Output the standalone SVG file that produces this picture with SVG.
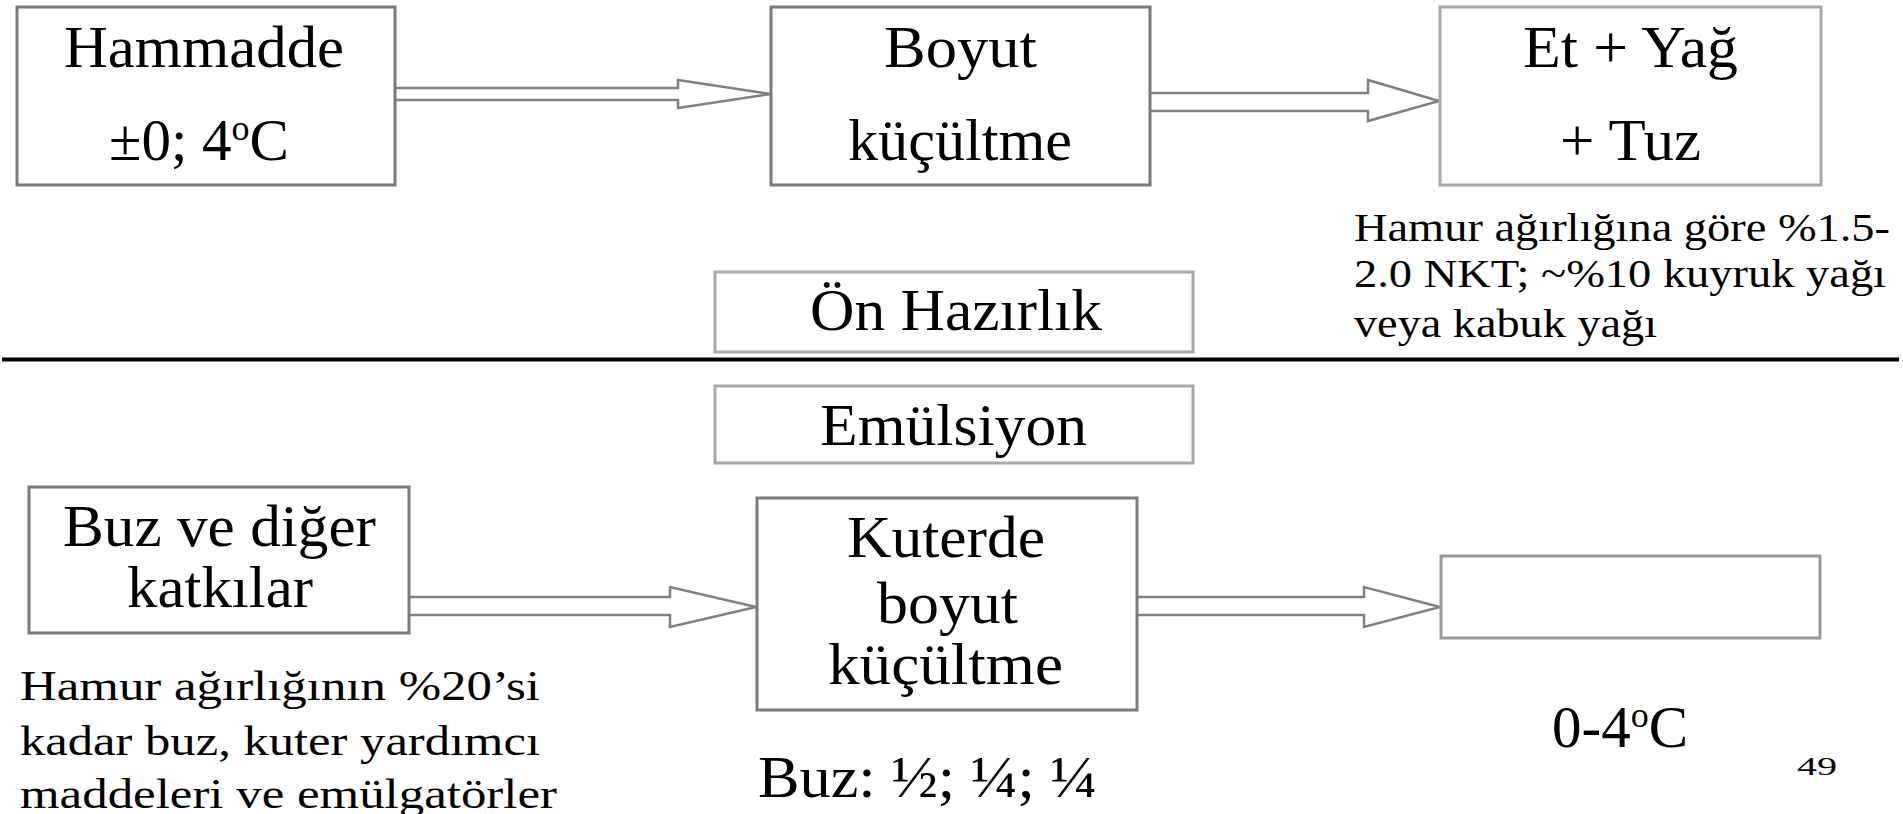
<svg xmlns="http://www.w3.org/2000/svg" width="1903" height="814" viewBox="0 0 1903 814">
<style>
.box{fill:#fff;stroke:#7a7a7a;stroke-width:3}
.lbox{fill:#fff;stroke:#a8a8a8;stroke-width:3}
.t{font-family:"Liberation Serif","Times New Roman",serif;font-size:59px;fill:#000}
.n{font-family:"Liberation Serif","Times New Roman",serif;font-size:40px;fill:#000}
.m{font-family:"Liberation Serif","Times New Roman",serif;font-size:43px;fill:#000}
.arr{fill:#fff;stroke:#808080;stroke-width:2.5;stroke-linejoin:miter}
</style>
<rect width="1903" height="814" fill="#fff"/>

<g id="connectors">
  <path class="arr" d="M395,88 L678,88 L678,80 L771,94 L678,108 L678,100 L395,100"/>
  <path class="arr" d="M1150,93 L1368,93 L1368,80 L1439,101 L1368,121 L1368,111 L1150,111"/>
  <path class="arr" d="M409,597 L670,597 L670,587 L756,607 L670,627 L670,615 L409,615"/>
  <path class="arr" d="M1137,597 L1364,597 L1364,587 L1440,607 L1364,627 L1364,615 L1137,615"/>
  <line x1="2" y1="359.5" x2="1899" y2="359.5" stroke="#000" stroke-width="4"/>
</g>

<g id="hammadde">
  <rect class="box" x="17" y="7" width="378" height="178"/>
  <text class="t" x="64" y="67" textLength="280" lengthAdjust="spacingAndGlyphs">Hammadde</text>
  <text class="t" x="109" y="160">±0; 4<tspan font-size="36" dy="-20">o</tspan><tspan dy="20">C</tspan></text>
</g>

<g id="boyut">
  <rect class="box" x="771" y="7" width="379" height="178"/>
  <text class="t" x="884" y="67" textLength="153" lengthAdjust="spacingAndGlyphs">Boyut</text>
  <text class="t" x="848" y="160" textLength="224" lengthAdjust="spacingAndGlyphs">küçültme</text>
</g>

<g id="etyag">
  <rect class="lbox" x="1440" y="7" width="381" height="178"/>
  <text class="t" x="1523" y="67" textLength="215" lengthAdjust="spacingAndGlyphs">Et + Yağ</text>
  <text class="t" x="1560" y="160" textLength="141" lengthAdjust="spacingAndGlyphs">+ Tuz</text>
</g>

<g id="note-top">
  <text class="n" x="1354" y="241" textLength="536" lengthAdjust="spacingAndGlyphs">Hamur ağırlığına göre %1.5-</text>
  <text class="n" x="1354" y="287" textLength="532" lengthAdjust="spacingAndGlyphs">2.0 NKT; ~%10 kuyruk yağı</text>
  <text class="n" x="1354" y="337" textLength="303" lengthAdjust="spacingAndGlyphs">veya kabuk yağı</text>
</g>

<g id="on-hazirlik">
  <rect class="lbox" x="715" y="272" width="478" height="80"/>
  <text class="t" x="810" y="330" textLength="292" lengthAdjust="spacingAndGlyphs">Ön Hazırlık</text>
</g>

<g id="emulsiyon">
  <rect class="lbox" x="715" y="386" width="478" height="77"/>
  <text class="t" x="820" y="445" textLength="267" lengthAdjust="spacingAndGlyphs">Emülsiyon</text>
</g>

<g id="buz">
  <rect class="box" x="29" y="487" width="380" height="146"/>
  <text class="t" x="63" y="546" textLength="313" lengthAdjust="spacingAndGlyphs">Buz ve diğer</text>
  <text class="t" x="127" y="607" textLength="186" lengthAdjust="spacingAndGlyphs">katkılar</text>
</g>

<g id="note-bottom">
  <text class="m" x="20" y="700" textLength="520" lengthAdjust="spacingAndGlyphs">Hamur ağırlığının %20’si</text>
  <text class="m" x="20" y="755" textLength="520" lengthAdjust="spacingAndGlyphs">kadar buz, kuter yardımcı</text>
  <text class="m" x="20" y="808" textLength="537" lengthAdjust="spacingAndGlyphs">maddeleri ve emülgatörler</text>
</g>

<g id="kuterde">
  <rect class="box" x="757" y="498" width="380" height="212"/>
  <text class="t" x="847" y="557" textLength="198" lengthAdjust="spacingAndGlyphs">Kuterde</text>
  <text class="t" x="877" y="623" textLength="141" lengthAdjust="spacingAndGlyphs">boyut</text>
  <text class="t" x="828" y="684" textLength="235" lengthAdjust="spacingAndGlyphs">küçültme</text>
</g>

<g id="buz-ratio">
  <text class="t" x="758" y="797" textLength="339" lengthAdjust="spacingAndGlyphs">Buz: ½; ¼; ¼</text>
</g>

<g id="empty">
  <rect class="lbox" x="1441" y="556" width="379" height="82" style="stroke:#999"/>
</g>

<g id="temp">
  <text class="t" x="1552" y="747">0-4<tspan font-size="36" dy="-20">o</tspan><tspan dy="20">C</tspan></text>
</g>

<g id="page">
  <text x="1797" y="775" font-family="Liberation Serif, serif" font-size="26" textLength="40" lengthAdjust="spacingAndGlyphs">49</text>
</g>
</svg>
